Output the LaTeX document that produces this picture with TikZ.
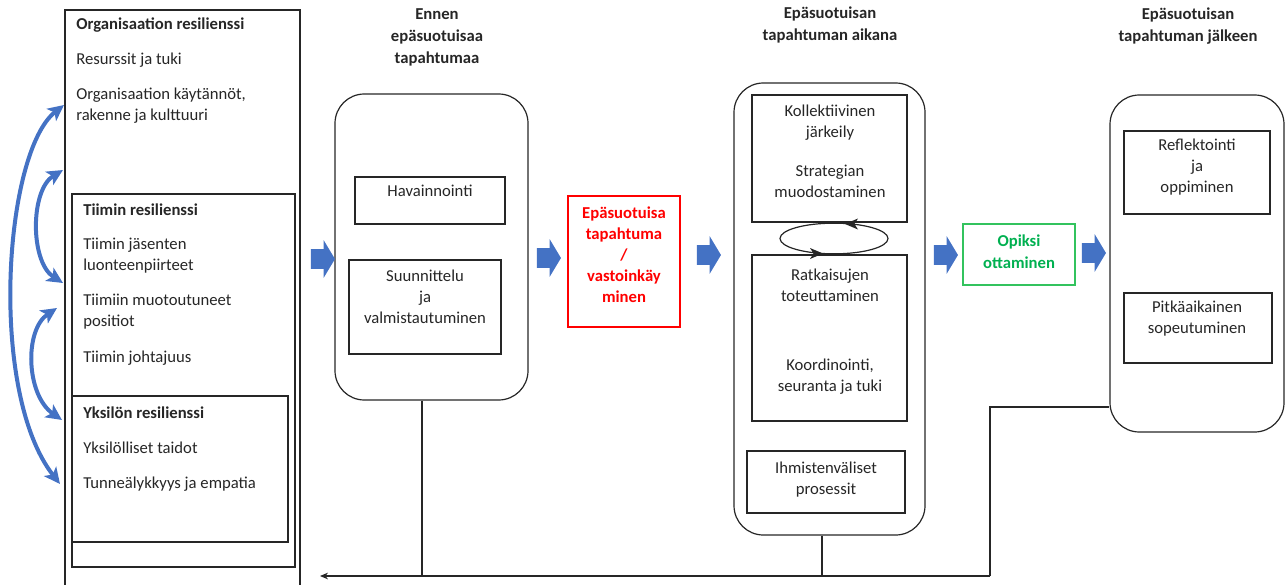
\documentclass[tikz,border=0pt]{standalone}
\usepackage{fontspec}
\setmainfont{Carlito}
\usetikzlibrary{arrows.meta,fit,shapes.arrows,shapes.geometric}
\definecolor{flowblue}{HTML}{4472C4}
\definecolor{evred}{HTML}{FF0000}
\definecolor{learngreen}{HTML}{00B050}
\definecolor{learnframe}{HTML}{33C35E}
\definecolor{ink}{HTML}{262626}

\begin{document}
\begin{tikzpicture}[x=0.75pt,y=-0.75pt,
  frame/.style={draw=ink, line width=0.9pt, inner sep=0pt},
  phase/.style={draw=ink, line width=0.9pt, inner sep=0pt, rounded corners=22pt},
  txt/.style={text=ink, inner sep=0pt, align=center, font=\fontsize{12.5}{15.75}\selectfont},
  ltxt/.style={text=ink, inner sep=0pt, anchor=west, font=\fontsize{12.5}{15.75}\selectfont},
  btxt/.style={ltxt, font=\bfseries\fontsize{12.5}{15.75}\selectfont},
  head/.style={text=ink, inner sep=0pt, align=center, font=\bfseries\fontsize{12.5}{16.5}\selectfont},
  flow/.style={single arrow, fill=flowblue, draw=none, inner sep=0pt, inner ysep=7.2pt,
    minimum height=18pt, single arrow head extend=6.8pt, single arrow tip angle=118},
  link/.style={draw=ink, line width=0.8pt},
  tip/.style={-{Stealth[length=6pt,width=5pt]}},
  swing/.style={draw=flowblue, line width=3pt,
    {Stealth[length=12pt,width=11.5pt,inset=3pt]}-{Stealth[length=12pt,width=11.5pt,inset=3pt]}}
]
\useasboundingbox (0,0) rectangle (1285,585);

% ---------- resilience levels ----------
\coordinate (orgSW) at (65,590);
\coordinate (orgNE) at (300,10);
\coordinate (orgSE) at (300,590);
\draw[link, line width=0.9pt] (orgSW) |- (orgNE) -- (orgSE);
\node[frame, fit={(72,194)(295,567)}] (team) {};
\node[frame, fit={(72,396)(288,542)}] (indiv) {};

\node[btxt] (orgT) at (76,25) {Organisaation resilienssi};
\node[ltxt] (orgA) at (76,60) {Resurssit ja tuki};
\node[ltxt, align=left] (orgB) at (76,106) {Organisaation käytännöt,\\rakenne ja kulttuuri};
\node[btxt] (teamT) at (83,210) {Tiimin resilienssi};
\node[ltxt, align=left] (teamA) at (83,256) {Tiimin jäsenten\\luonteenpiirteet};
\node[ltxt, align=left] (teamB) at (83,312) {Tiimiin muotoutuneet\\positiot};
\node[ltxt] (teamC) at (83,358) {Tiimin johtajuus};
\node[btxt] (indT) at (83,413) {Yksilön resilienssi};
\node[ltxt] (indA) at (83,448) {Yksilölliset taidot};
\node[ltxt] (indB) at (83,484) {Tunneälykkyys ja empatia};

% interaction between the levels
\coordinate (s1a) at (64,105); \coordinate (s1b) at (60,484);
\coordinate (s2a) at (63,170); \coordinate (s2b) at (63,283);
\coordinate (s3a) at (57,308); \coordinate (s3b) at (62,420);
\draw[swing] (s1b) .. controls (-12,392) and (4,152) .. (s1a);
\draw[swing] (s2b) .. controls (30,262) and (30,190) .. (s2a);
\draw[swing] (s3b) .. controls (26,395) and (24,330) .. (s3a);

% ---------- before ----------
\node[head] (h1) at (437,37) {Ennen\\epäsuotuisaa\\tapahtumaa};
\node[phase, fit={(335,94)(528,400)}] (before) {};
\node[frame, fit={(355,177)(505,224)}] (obs) {};
\node[txt] (obsT) at (430,191) {Havainnointi};
\node[frame, fit={(349,260)(501,354)}] (plan) {};
\node[txt] (planT) at (425,297) {Suunnittelu\\ja\\valmistautuminen};

% ---------- the event ----------
\node[frame, draw=evred, fit={(568,196)(680,327)}] (event) {};
\node[head, text=evred, font=\bfseries\fontsize{12.5}{15.75}\selectfont] (eventT) at (624,255) {Epäsuotuisa\\tapahtuma\\/\\vastoinkäy\\minen};

% ---------- during ----------
\node[head] (h2) at (830,25) {Epäsuotuisan\\tapahtuman aikana};
\node[phase, fit={(734,83)(925,535)}] (during) {};
\node[frame, fit={(752,95)(907,222)}] (reason) {};
\node[txt] (reasonT) at (830,123) {Kollektiivinen\\järkeily};
\node[txt] (reasonU) at (830,181) {Strategian\\muodostaminen};
\node[frame, fit={(752,255)(907,421)}] (act) {};
\node[txt] (actT) at (830,285) {Ratkaisujen\\toteuttaminen};
\node[txt] (actU) at (830,377) {Koordinointi,\\seuranta ja tuki};
\node[frame, fit={(747,451)(905,513)}] (inter) {};
\node[txt] (interT) at (826,480) {Ihmistenväliset\\prosessit};
\node[draw=ink, line width=0.9pt, ellipse, minimum width=81pt, minimum height=23pt, inner sep=0pt] (cycle) at (834,238.5) {};
\fill[ink] (845,224) -- (858,218.5) -- (854.5,224) -- (858,229.5) -- cycle;
\fill[ink] (823,253.5) -- (810,248) -- (813.5,253.5) -- (810,259) -- cycle;

% ---------- lesson ----------
\node[frame, draw=learnframe, fit={(963,224)(1075,285)}] (lesson) {};
\node[head, text=learngreen] (lessonT) at (1019,252) {Opiksi\\ottaminen};

% ---------- after ----------
\node[head] (h3) at (1188,26) {Epäsuotuisan\\tapahtuman jälkeen};
\node[phase, fit={(1110,95)(1284,432)}] (after) {};
\node[frame, fit={(1124,131)(1270,214)}] (refl) {};
\node[txt] (reflT) at (1197,167) {Reflektointi\\ja\\oppiminen};
\node[frame, fit={(1124,293)(1272,363)}] (adapt) {};
\node[txt] (adaptT) at (1197,319) {Pitkäaikainen\\sopeutuminen};

% ---------- block arrows ----------
\node[flow] (f1) at (320,259) {};
\node[flow] (f2) at (546,258) {};
\node[flow] (f3) at (706,255) {};
\node[flow] (f4) at (943,255) {};
\node[flow] (f5) at (1091,253) {};

% ---------- feedback to the resilience levels ----------
\coordinate (fbEnd) at (320,576);
\coordinate (fbTurn) at (990,407);
\coordinate (fbCorner) at (990,576);
\coordinate (fbBefore) at (422,576);
\coordinate (fbDuring) at (822,576);
\draw[link] (after.west |- fbTurn) -- (fbTurn) -- (fbCorner);
\draw[link, tip] (fbCorner) -- (fbEnd);
\draw[link] (before.south -| fbBefore) -- (fbBefore);
\draw[link] (during.south -| fbDuring) -- (fbDuring);
\end{tikzpicture}
\end{document}
